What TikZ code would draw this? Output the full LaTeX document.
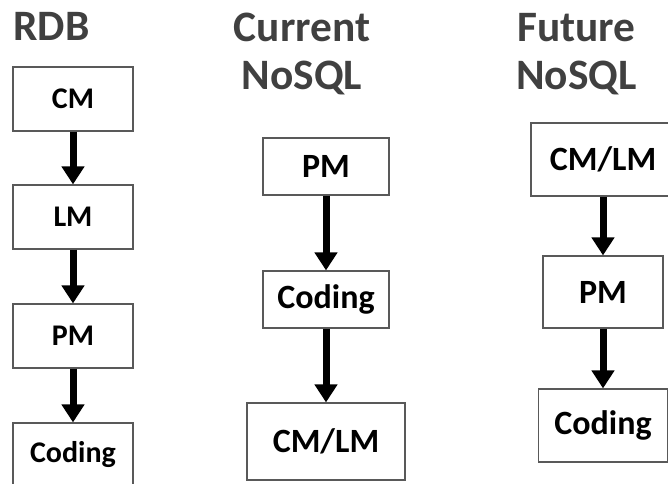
\documentclass[tikz,border=0pt]{standalone}
\usepackage{fontspec}
\setmainfont{Carlito}
\usetikzlibrary{arrows.meta, positioning}
\definecolor{titlegray}{rgb}{0.25, 0.25, 0.25}

\begin{document}
\begin{tikzpicture}[x=0.5pt, y=-0.5pt]
        \tikzstyle{box} = [rectangle,draw=black!65,line width=0.6pt,inner sep=0pt,font=\fontsize{17}{20}\selectfont\bfseries]
        \tikzstyle{flow} = [-{Triangle[width=11pt,length=9pt]},line width=3.5pt]
        \tikzstyle{heading} = [align=center,inner sep=0pt,text=titlegray,font=\fontsize{21.7}{24}\selectfont\bfseries]

        \useasboundingbox (0,0) rectangle (668,483);

        % RDB
        \node[heading, anchor=base west] (rdb) at (13,40) {RDB};
        \node[box, minimum width=60pt, minimum height=32pt, font=\fontsize{15}{18}\selectfont\bfseries] (rcm) at (73,99) {CM};
        \node[box, minimum width=60pt, minimum height=32pt, font=\fontsize{15}{18}\selectfont\bfseries] (rlm) at (73,217) {LM};
        \node[box, minimum width=60pt, minimum height=32pt, font=\fontsize{15}{18}\selectfont\bfseries] (rpm) at (73,336) {PM};
        \node[box, minimum width=60pt, minimum height=32pt, font=\fontsize{15}{18}\selectfont\bfseries] (rcode) at (73,455) {Coding};

        % current NoSQL
        \node[heading, anchor=base] (cur) at (302,89) {Current\\NoSQL};
        \node[box, minimum width=63pt, minimum height=28.5pt] (cpm) at (326,166.5) {PM};
        \node[box, minimum width=63pt, minimum height=28.5pt] (ccode) at (326,299.5) {Coding};
        \node[box, minimum width=79pt, minimum height=38.5pt] (ccmlm) at (326,441.5) {CM/LM};

        % future NoSQL
        \node[heading, anchor=base] (fut) at (576.5,89) {Future\\NoSQL};
        \node[box, minimum width=72pt, minimum height=36.5pt] (fcmlm) at (603,159.5) {CM/LM};
        \node[box, minimum width=60pt, minimum height=36pt] (fpm) at (603,292) {PM};
        \node[box, minimum width=64.5pt, minimum height=36.5pt] (fcode) at (603,425.5) {Coding};

        \foreach \a/\b in {rcm/rlm, rlm/rpm, rpm/rcode, cpm/ccode, ccode/ccmlm, fcmlm/fpm, fpm/fcode}
            \draw[flow] (\a) -- (\b);

    \end{tikzpicture}
\end{document}
